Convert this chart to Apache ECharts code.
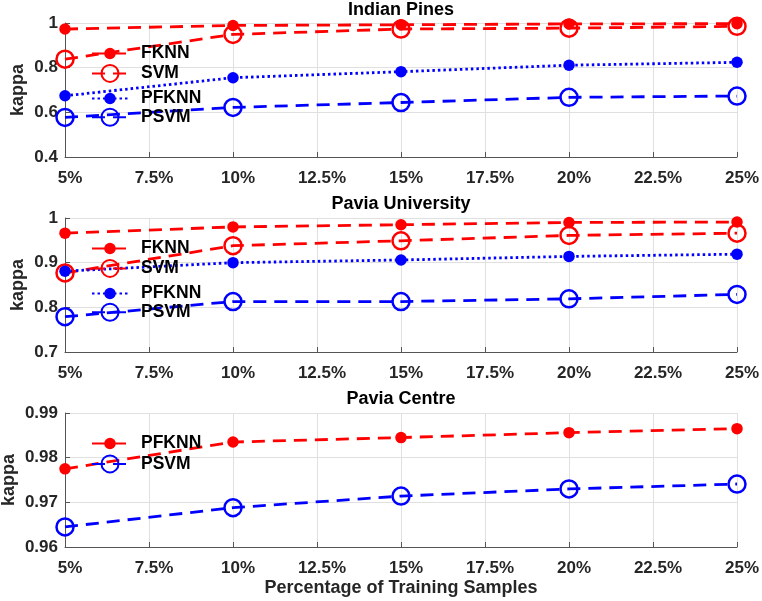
<!DOCTYPE html>
<html>
<head>
<meta charset="utf-8">
<script src="https://cdn.jsdelivr.net/npm/echarts@6/dist/echarts.min.js"></script>
<style>
html,body{margin:0;padding:0;background:#fff;}
#c{width:762px;height:601px;}
</style>
</head>
<body>
<div id="c"></div>
<script>
const pct = [5, 10, 15, 20, 25];
const titles = ['Indian Pines', 'Pavia University', 'Pavia Centre'];

const ipFKNN  = [0.973, 0.989, 0.992, 0.996, 0.997];
const ipSVM   = [0.838, 0.949, 0.973, 0.977, 0.985];
const ipPFKNN = [0.674, 0.755, 0.782, 0.811, 0.824];
const ipPSVM  = [0.577, 0.622, 0.644, 0.667, 0.673];

const puFKNN  = [0.966, 0.980, 0.985, 0.990, 0.991];
const puSVM   = [0.877, 0.938, 0.949, 0.961, 0.966];
const puPFKNN = [0.881, 0.900, 0.906, 0.914, 0.919];
const puPSVM  = [0.779, 0.813, 0.813, 0.819, 0.829];

const pcPFKNN = [0.9775, 0.9835, 0.9845, 0.9856, 0.9865];
const pcPSVM  = [0.9645, 0.9688, 0.9714, 0.9730, 0.9741];

const yRanges = [
  {min: 0.4, max: 1, interval: 0.2},
  {min: 0.7, max: 1, interval: 0.1},
  {min: 0.96, max: 0.99, interval: 0.01}
];

const FONT = 'Liberation Sans, Arial, sans-serif';
const RED = '#ff0000', BLUE = '#0000ff';
const gridTops = [23, 218, 413];
const H = 134;
const FILLED = 11.5, OPEN = 17;

function pairs(arr){ return pct.map((p,i)=>[p, arr[i]]); }

function mk(name, data, gi, color, dash, open){
  return {
    name: name, type: 'line', xAxisIndex: gi, yAxisIndex: gi,
    data: pairs(data),
    symbol: 'circle',
    symbolSize: open ? OPEN : FILLED,
    showSymbol: true,
    lineStyle: {color: color, width: 2.8, type: dash === 'dot' ? [2.5, 3] : [13, 8]},
    itemStyle: open ? {color: 'rgba(255,255,255,0)', borderColor: color, borderWidth: 2.5}
                    : {color: color, borderColor: color, borderWidth: 0},
    emphasis: {disabled: true},
    animation: false
  };
}

const series = [
  mk('FKNN|a', ipFKNN, 0, RED, 'dash', false),
  mk('SVM|a', ipSVM, 0, RED, 'dash', true),
  mk('PFKNN|a', ipPFKNN, 0, BLUE, 'dot', false),
  mk('PSVM|a', ipPSVM, 0, BLUE, 'dash', true),
  mk('FKNN|b', puFKNN, 1, RED, 'dash', false),
  mk('SVM|b', puSVM, 1, RED, 'dash', true),
  mk('PFKNN|b', puPFKNN, 1, BLUE, 'dot', false),
  mk('PSVM|b', puPSVM, 1, BLUE, 'dash', true),
  mk('PFKNN|c', pcPFKNN, 2, RED, 'dash', false),
  mk('PSVM|c', pcPSVM, 2, BLUE, 'dash', true)
];

const grids = gridTops.map(t => ({left: 65, right: 25, top: t, height: H, containLabel: false, outerBoundsMode: 'none'}));

const xAxes = [0,1,2].map(i => ({
  type: 'value', gridIndex: i, min: 5, max: 25, interval: 2.5,
  name: i === 2 ? 'Percentage of Training Samples' : '',
  nameLocation: 'middle', nameGap: 32, nameMoveOverlap: false,
  nameTextStyle: {fontFamily: FONT, fontWeight: 'bold', fontSize: 18, color: '#262626'},
  axisLine: {show: true, onZero: false, lineStyle: {color: '#555', width: 1}},
  axisTick: {show: true, inside: true, length: 5, lineStyle: {color: '#555'}},
  axisLabel: {fontFamily: FONT, fontWeight: 'bold', fontSize: 17, color: '#262626', margin: 13,
    padding: [0,0,0,10], formatter: v => v + '%'},
  splitLine: {show: true, lineStyle: {color: '#e0e0e0', width: 1}}
}));

const yAxes = [0,1,2].map(i => ({
  type: 'value', gridIndex: i,
  min: yRanges[i].min, max: yRanges[i].max, interval: yRanges[i].interval,
  name: 'kappa', nameLocation: 'middle', nameGap: i === 2 ? 47 : 38, nameMoveOverlap: false,
  nameTextStyle: {fontFamily: FONT, fontWeight: 'bold', fontSize: 18, color: '#262626'},
  axisLine: {show: true, lineStyle: {color: '#555', width: 1}},
  axisTick: {show: true, inside: true, length: 5, lineStyle: {color: '#555'}},
  axisLabel: {fontFamily: FONT, fontWeight: 'bold', fontSize: 17, color: '#262626', margin: 7,
    formatter: v => String(+v.toFixed(3))},
  splitLine: {show: true, lineStyle: {color: '#e0e0e0', width: 1}}
}));

const titleTops = [1, 195, 390];
const title = titles.map((t,i) => ({
  text: t, left: 401, top: titleTops[i], textAlign: 'center', padding: 0,
  textStyle: {fontFamily: FONT, fontWeight: 'bold', fontSize: 18, color: '#000'}
}));

// one legend component per entry so filled and open markers keep their sizes
function legendItem(name, centerY, open){
  const ih = (open ? OPEN : FILLED) / 0.8;
  return {
    data: [name], orient: 'vertical', left: 91, top: centerY - ih / 2, padding: 0,
    itemWidth: 36, itemHeight: ih,
    selectedMode: false,
    formatter: n => n.split('|')[0],
    textStyle: {fontFamily: FONT, fontWeight: 'bold', fontSize: 17.5, color: '#000', padding: [0,0,0,8]}
  };
}

const legends = [
  legendItem('FKNN|a', 51.7, false),
  legendItem('SVM|a', 74.5, true),
  legendItem('PFKNN|a', 96.7, false),
  legendItem('PSVM|a', 118.3, true),
  legendItem('FKNN|b', 246.7, false),
  legendItem('SVM|b', 269.5, true),
  legendItem('PFKNN|b', 291.7, false),
  legendItem('PSVM|b', 313.3, true),
  legendItem('PFKNN|c', 441.7, false),
  legendItem('PSVM|c', 465, true)
];

const option = {
  backgroundColor: '#fff',
  animation: false,
  title: title,
  grid: grids,
  xAxis: xAxes,
  yAxis: yAxes,
  legend: legends,
  series: series
};

const chart = echarts.init(document.getElementById('c'), null, {renderer: 'canvas'});
chart.setOption(option);
</script>
</body>
</html>
